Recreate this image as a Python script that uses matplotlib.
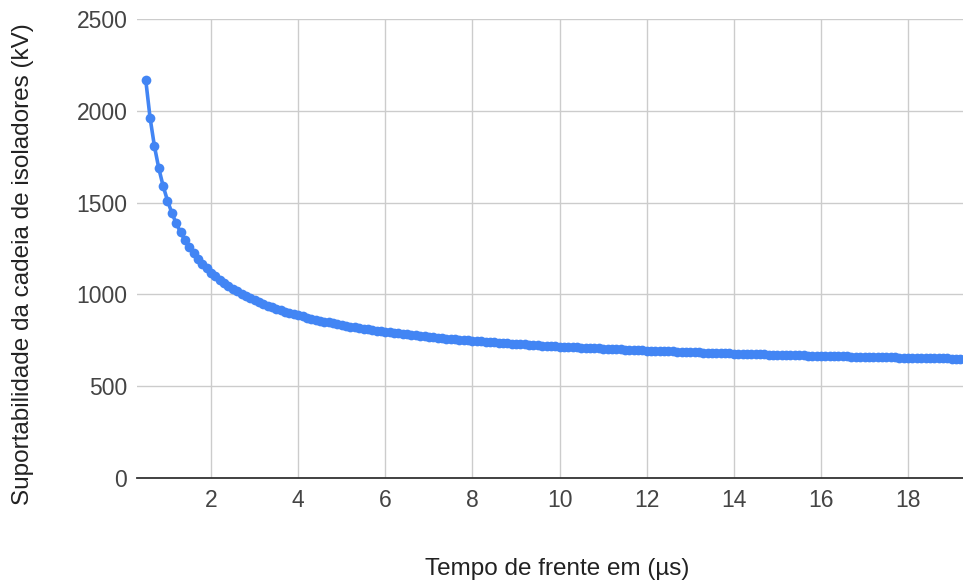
import numpy as np
import matplotlib.pyplot as plt

# front time grid: 0.5 us to 19.3 us, one sample every 0.1 us
t_start = 0.5
t_step = 0.1

# insulator string withstand (kV)
withstand_kv = [
    2169.5, 1961.7, 1807.0, 1686.8, 1590.1, 1510.7, 1444.0, 1387.2, 1338.1, 1295.2,
    1257.3, 1223.6, 1193.4, 1166.2, 1141.5, 1119.0, 1098.3, 1079.3, 1061.8, 1045.5,
    1030.4, 1016.3, 1003.1, 990.8, 979.2, 968.3, 958.0, 948.3, 939.1, 930.3,
    922.0, 914.1, 906.6, 899.4, 892.6, 886.0, 879.8, 873.8, 868.0, 862.5,
    857.1, 852.0, 847.1, 842.4, 837.8, 833.4, 829.2, 825.1, 821.1, 817.2,
    813.4, 809.8, 806.3, 802.9, 799.6, 796.4, 793.3, 790.3, 787.4, 784.5,
    781.7, 779.0, 776.4, 773.8, 771.3, 768.9, 766.5, 764.2, 762.0, 759.7,
    757.6, 755.5, 753.4, 751.4, 749.4, 747.5, 745.6, 743.8, 742.0, 740.2,
    738.5, 736.8, 735.2, 733.5, 732.0, 730.4, 728.9, 727.4, 725.9, 724.4,
    723.0, 721.6, 720.2, 718.8, 717.5, 716.2, 714.9, 713.7, 712.5, 711.3,
    710.1, 708.9, 707.7, 706.6, 705.5, 704.4, 703.3, 702.3, 701.2, 700.2,
    699.2, 698.2, 697.2, 696.2, 695.3, 694.3, 693.4, 692.5, 691.7, 690.8,
    689.9, 689.0, 688.1, 687.3, 686.4, 685.5, 684.7, 684.0, 683.2, 682.5,
    681.7, 680.9, 680.2, 679.4, 678.7, 677.9, 677.2, 676.6, 675.9, 675.2,
    674.6, 673.9, 673.2, 672.5, 671.9, 671.2, 670.6, 670.0, 669.4, 668.8,
    668.2, 667.6, 667.0, 666.4, 665.8, 665.2, 664.7, 664.1, 663.6, 663.0,
    662.5, 662.0, 661.4, 660.9, 660.3, 659.8, 659.3, 658.8, 658.4, 657.9,
    657.4, 656.9, 656.4, 655.9, 655.5, 655.0, 654.6, 654.1, 653.7, 653.2,
    652.8, 652.4, 651.9, 651.5, 651.0, 650.6, 650.2, 649.8, 649.4,
]
front_time = t_start + t_step * np.arange(len(withstand_kv))

x_ticks = [2, 4, 6, 8, 10, 12, 14, 16, 18]
y_ticks = [0, 500, 1000, 1500, 2000, 2500]

plt.rcParams['font.family'] = ['Liberation Sans', 'DejaVu Sans']

fig = plt.figure(figsize=(9.63, 5.81), dpi=100)
ax = fig.add_axes([137 / 963, 1 - 478 / 581, 1 - 137 / 963, (478 - 19) / 581])

ax.plot(front_time, withstand_kv, color='#4285F4', lw=2.6, marker='o',
        markersize=7, markeredgewidth=0, zorder=3)

ax.set_xlim(0.3, 19.26)
ax.set_ylim(0, 2500)
ax.set_xticks(x_ticks)
ax.set_yticks(y_ticks)

ax.grid(True, color='#cccccc', lw=1.0)
ax.set_axisbelow(True)
for side in ['top', 'right', 'left']:
    ax.spines[side].set_visible(False)
ax.spines['bottom'].set_color('#333333')
ax.spines['bottom'].set_linewidth(1.3)
ax.spines['bottom'].set_zorder(4)

ax.tick_params(axis='x', length=0, pad=8, labelsize=16.5, labelcolor='#444444')
ax.tick_params(axis='y', length=0, pad=7, labelsize=16.5, labelcolor='#444444')

fig.text(557 / 963, 6 / 581, 'Tempo de frente em (µs)', fontsize=17.5,
         color='#222222', ha='center', va='baseline')
fig.text(23 / 963, 1 - 264 / 581, 'Suportabilidade da cadeia de isoladores (kV)',
         fontsize=17.5, color='#222222', rotation=90, ha='center', va='center')

fig.savefig('out.png', dpi=100)
